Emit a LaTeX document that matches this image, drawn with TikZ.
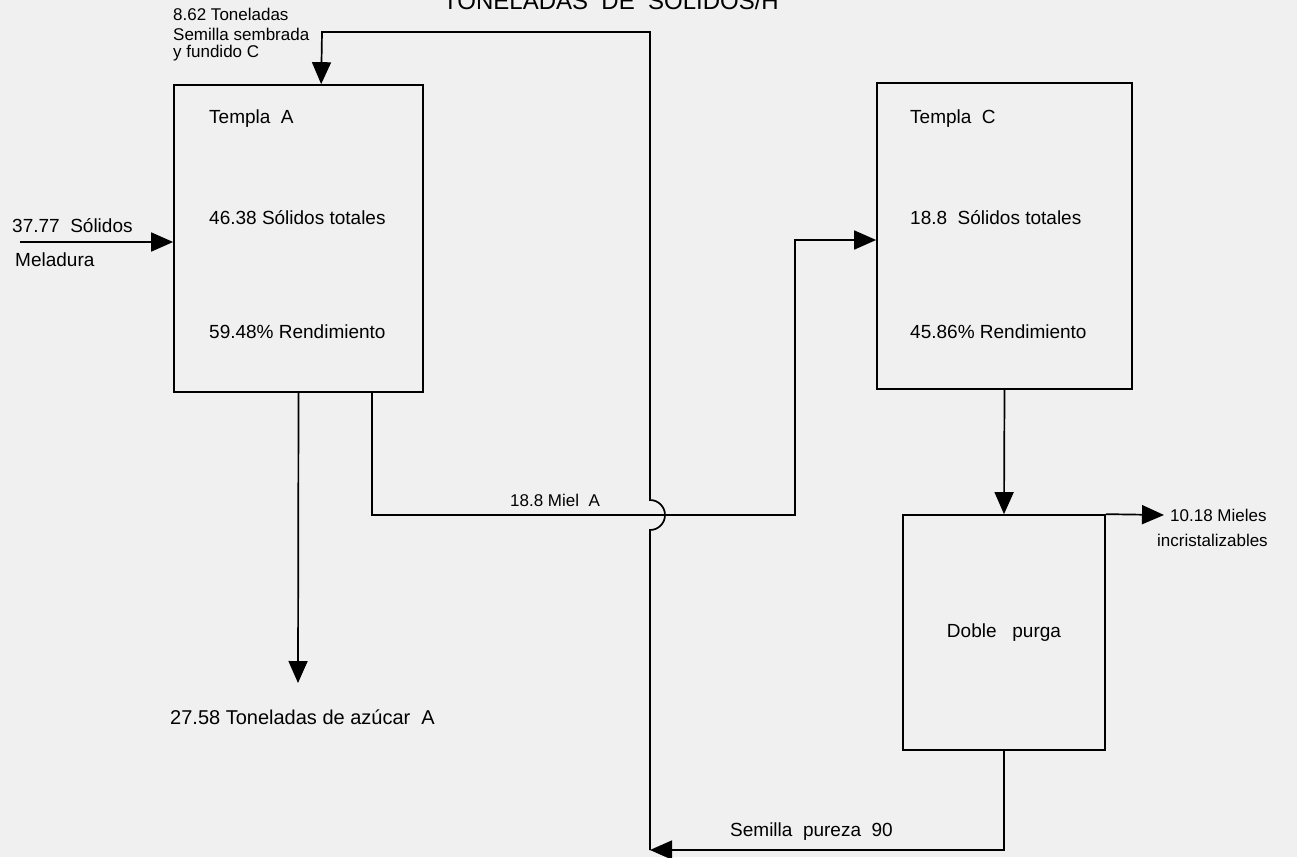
\documentclass[tikz,border=0pt]{standalone}
\usepackage{fontspec}
\setmainfont{Liberation Sans}
\usetikzlibrary{arrows.meta,calc}
\begin{document}
\begin{tikzpicture}[x=1pt,y=-1pt,
  box/.style={draw,line width=1.7pt,inner sep=0pt},
  flow/.style={line width=1.7pt},
  tip/.style={-{Triangle[length=22pt,width=19pt]}},
  lbl/.style={font=\fontsize{19}{22}\selectfont,inner sep=0pt,anchor=west},
  small/.style={font=\fontsize{17}{20}\selectfont,inner sep=0pt,anchor=west}]
\useasboundingbox (0,0) rectangle (1297,857);
\fill[black!6] (0,0) rectangle (1297,857);
% title (cut by the page edge)
\node[font=\fontsize{24}{28}\selectfont,inner sep=0pt,anchor=base] (title) at (611,9) {TONELADAS\ \ DE\ \ SOLIDOS/H};
% boxes
\node[box,minimum width=249pt,minimum height=307pt] (A) at (298.5,238.5) {};
\node[box,minimum width=255pt,minimum height=306pt] (C) at (1004.5,236) {};
\node[box,minimum width=202pt,minimum height=235pt] (D) at (1004,632.5) {};
% box texts
\node[lbl] (tA) at (209,119) {Templa\ \ A};
\node[lbl] (sA) at (209,218) {46.38 Sólidos\ totales};
\node[lbl] (rA) at (209,332) {59.48\% Rendimiento};
\node[lbl] (tC) at (910,119) {Templa\ \ C};
\node[lbl] (sC) at (910,218) {18.8\ \ Sólidos totales};
\node[lbl] (rC) at (910,332) {45.86\% Rendimiento};
\node[lbl,anchor=center] (tD) at (D.center) {Doble\ \ \ purga};
% coordinates
\coordinate (mel) at (20,242);
\coordinate (seedIn) at ($(A.north west)+(148,0)$);
\coordinate (seedTL) at (322,32);
\coordinate (seedTR) at (650,32);
\coordinate (hopB) at (650,530);
\coordinate (bot) at (650,850);
\coordinate (botR) at (1004,850);
\coordinate (mielS) at ($(A.south)+(73.5,0)$);
\coordinate (mielL) at (372,515);
\coordinate (mielR) at (795,515);
\coordinate (feedT) at (795,240);
\coordinate (sugar) at (298,683);
\coordinate (mieles) at (1164,515);
% connectors
\draw[flow,tip] (mel) -- (mel -| A.west);
\draw[flow,tip] (A.south) -- (sugar);
\draw[flow,tip] (mielS) -- (mielL) -- (mielR) -- (feedT) -- (feedT -| C.west);
\draw[flow,tip] (C.south) -- (D.north);
\draw[flow,tip] (D.north east) -- (mieles);
\draw[flow,tip] (D.south) -- (botR) -- (bot);
\draw[flow,tip] (bot) -- (hopB) arc[start angle=90,end angle=-90,radius=15] -- (seedTR) -- (seedTL) -- (seedIn);
% labels
\node[small] (l1) at (173,14) {8.62 Toneladas};
\node[small] (l2) at (173,34) {Semilla sembrada};
\node[small] (l3) at (173,53) {y fundido C};
\node[lbl] (l4) at (12,226) {37.77\ \ Sólidos};
\node[lbl] (l5) at (15,260) {Meladura};
\node[lbl,font=\fontsize{20}{23}\selectfont] (l6) at (170,717) {27.58 Toneladas\ de\ azúcar\ \ A};
\node[small] (l7) at (510,500) {18.8 Miel\ \ A};
\node[small] (l8) at (1170,515) {10.18 Mieles};
\node[small] (l9) at (1157,540) {incristalizables};
\node[lbl] (l10) at (730,832) {Semilla\ \ pureza\ \ 90};
\end{tikzpicture}
\end{document}
